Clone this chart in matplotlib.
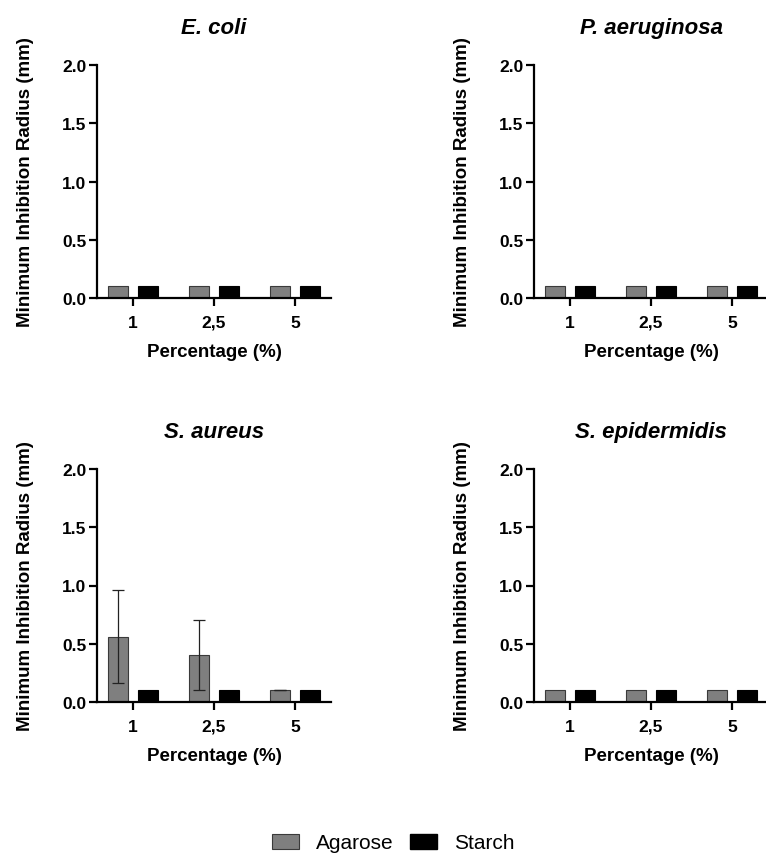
import matplotlib
matplotlib.use("Agg")
import matplotlib.pyplot as plt
import numpy as np
from matplotlib.patches import Patch

plt.rcParams['font.family'] = ['Liberation Sans', 'DejaVu Sans']

categories = ["1", "2,5", "5"]
titles = ["E. coli", "P. aeruginosa", "S. aureus", "S. epidermidis"]
series_names = ["Agarose", "Starch"]

agarose_means = {
    "E. coli": [0.1, 0.1, 0.1],
    "P. aeruginosa": [0.1, 0.1, 0.1],
    "S. aureus": [0.56, 0.40, 0.1],
    "S. epidermidis": [0.1, 0.1, 0.1],
}
agarose_sd = {
    "E. coli": [0, 0, 0],
    "P. aeruginosa": [0, 0, 0],
    "S. aureus": [0.40, 0.30, 0],
    "S. epidermidis": [0, 0, 0],
}
starch_means = {
    "E. coli": [0.1, 0.1, 0.1],
    "P. aeruginosa": [0.1, 0.1, 0.1],
    "S. aureus": [0.1, 0.1, 0.1],
    "S. epidermidis": [0.1, 0.1, 0.1],
}

gray = '#7f7f7f'
W, H = 766, 854
fig = plt.figure(figsize=(W / 100, H / 100), dpi=100)

lefts = [97, 534]
tops = [66, 470]
axw, axh = 234, 233

bw = 0.247
off = 0.185
x = np.arange(len(categories))

for i, t in enumerate(titles):
    r, c = divmod(i, 2)
    L = lefts[c]; T = tops[r]
    ax = fig.add_axes([L / W, 1 - (T + axh) / H, axw / W, axh / H])
    sd = agarose_sd[t]
    has_err = any(v > 0 for v in sd)
    ax.bar(x - off, agarose_means[t], width=bw, color=gray, edgecolor='#3a3a3a', linewidth=0.8, zorder=2)
    if has_err:
        ax.errorbar(x - off, agarose_means[t], yerr=sd, fmt='none', ecolor='#222222',
                    elinewidth=0.9, capsize=4, capthick=0.9, zorder=3)
    ax.bar(x + off, starch_means[t], width=bw, color='black', edgecolor='black', linewidth=0.8, zorder=2)
    ax.set_xlim(-0.444, 2.444)
    ax.set_ylim(0, 2.0)
    ax.set_yticks([0, 0.5, 1.0, 1.5, 2.0])
    ax.set_yticklabels(["0.0", "0.5", "1.0", "1.5", "2.0"])
    ax.set_xticks(x)
    ax.set_xticklabels(categories)
    for s in ['top', 'right']:
        ax.spines[s].set_visible(False)
    for s in ['left', 'bottom']:
        ax.spines[s].set_linewidth(1.6)
    ax.tick_params(axis='both', width=1.6, length=6, labelsize=12.5)
    ax.tick_params(axis='y', pad=1.5)
    ax.tick_params(axis='x', pad=6)
    for lab in ax.get_xticklabels() + ax.get_yticklabels():
        lab.set_fontweight('bold')
    ax.set_ylabel("Minimum Inhibition Radius (mm)", fontsize=13.5, fontweight='bold', labelpad=20)
    ax.set_xlabel("Percentage (%)", fontsize=13.5, fontweight='bold', labelpad=9.5)
    ax.set_title(t, fontsize=16, fontweight='bold', fontstyle='italic', pad=23)
    ax.spines['bottom'].set_clip_on(False)

handles = [Patch(facecolor=gray, edgecolor='#3a3a3a', linewidth=0.8),
           Patch(facecolor='black', edgecolor='black')]
fig.legend(handles, series_names, loc='center', bbox_to_anchor=(393.5 / W, 1 - 844 / H),
           ncol=2, frameon=False, fontsize=15, handlelength=1.3, handleheight=0.72,
           handletextpad=0.8, columnspacing=0.8)

fig.savefig("out.png", dpi=100)
